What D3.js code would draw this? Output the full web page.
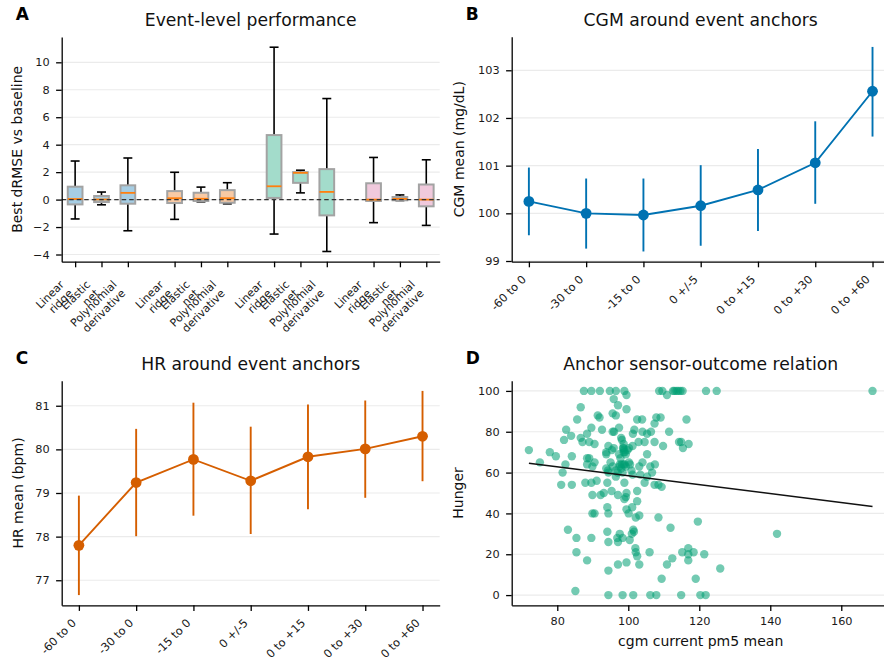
<!DOCTYPE html>
<html>
<head>
<meta charset="utf-8">
<script src="https://cdn.jsdelivr.net/npm/d3@7"></script>
<style>
body { margin: 0; background: #fff; }
text { font-family: "DejaVu Sans", sans-serif; }
</style>
</head>
<body>
<div class="container"></div>
<script>
// ---- data ----
const modelLabels = [['Linear', 'ridge'], ['Elastic', 'net'], ['Polynomial', 'derivative']];
const groupCount = 4;
// one entry per box, group by group (3 models each)
const whiskerHigh = [2.81, 0.55, 3.03, 1.99, 0.91, 1.23, 11.1, 2.14, 7.36, 3.07, 0.34, 2.9];
const boxQ3 = [0.94, 0.26, 1.04, 0.62, 0.5, 0.69, 4.7, 2.0, 2.22, 1.19, 0.19, 1.1];
const boxMedian = [0.04, 0.01, 0.49, 0.1, 0.06, 0.1, 0.97, 1.95, 0.56, 0.0, 0.05, 0.0];
const boxQ1 = [-0.35, -0.18, -0.3, -0.25, -0.1, -0.23, 0.12, 1.22, -1.15, -0.1, -0.05, -0.49];
const whiskerLow = [-1.41, -0.38, -2.27, -1.44, -0.16, -0.31, -2.51, 0.49, -3.78, -1.68, -0.07, -1.88];

const windows = ['-60 to 0', '-30 to 0', '-15 to 0', '0 +/-5', '0 to +15', '0 to +30', '0 to +60'];
const cgmMean = [100.25, 100.0, 99.965, 100.16, 100.49, 101.06, 102.56];
const cgmLow = [99.54, 99.26, 99.2, 99.32, 99.63, 100.2, 101.61];
const cgmHigh = [100.96, 100.73, 100.73, 101.01, 101.35, 101.93, 103.49];

const hrMean = [77.8, 79.24, 79.77, 79.28, 79.83, 80.01, 80.3];
const hrLow = [76.66, 78.01, 78.48, 78.06, 78.63, 78.89, 79.27];
const hrHigh = [78.94, 80.47, 81.07, 80.52, 81.03, 81.12, 81.34];

// hunger value -> cgm current pm5 mean values read at that level
const hungerRows = [
  [100, [87.5, 89.6, 92.0, 94.8, 96.5, 98.9, 108.7, 109.6, 112.6, 113.0, 113.6, 114.1, 114.7, 115.3, 121.9, 124.9, 168.8]],
  [98, [99.5, 110.9]], [96, [95.9]], [93, [97.1]], [92, [86.6]], [91, [99.5]],
  [89, [95.6]], [88, [91.4, 96.5]], [87, [91.9, 107.9, 109.1]],
  [86, [85.6, 102.5, 103.9, 116.4]], [84, [107.4]], [82, [89.6, 97.4]],
  [81, [82.5, 92.6, 101.7]], [80, [95.6, 96.0, 104.0, 106.4, 111.5]],
  [79, [88.4, 101.3, 105.3]], [78, [83.9]], [77, [98.0, 86.6]], [76, [81.9, 98.2]],
  [75, [87.1, 89.0, 102.9, 104.6, 107.4, 114.3, 114.9]], [74, [90.5, 98.7, 117.0]],
  [73, [94.4, 109.8, 101.2]], [72, [95.9, 115.4, 98.7, 100.2, 98.5]], [71, [72.0, 95.4, 98.7, 99.8]],
  [70, [77.9, 93.8, 98.7, 99.0]], [69, [99.3, 93.8, 97.4, 105.3]], [68, [79.6, 84.1]],
  [67, [88.4, 89.0, 97.8]], [65, [75.1, 90.5, 95.0, 100.2, 104.0]],
  [64, [82.3, 88.4, 97.6, 98.2, 98.7, 107.5, 99.0, 100.5]], [63, [103.1, 106.2, 89.9, 95.6, 99.3, 97.5]],
  [62, [93.8, 98.0]], [61, [100.9, 94.3, 96.5]], [60, [81.5, 106.7, 94.4, 98.4, 97.0]],
  [59, [101.2, 103.4]], [58, [96.5, 105.3]], [56, [91.1]], [55, [87.9, 89.6, 94.1, 98.9, 104.6]],
  [54, [81.1, 84.1, 107.4, 108.5]], [53, [109.4]], [51, [95.3, 102.5]], [50, [93.1, 99.5]],
  [49, [89.9, 92.2, 97.1]], [48, [99.3]], [47, [98.9]], [46, [102.5]], [43, [94.1, 101.1]],
  [42, [99.5]], [40, [94.4, 89.9, 90.5, 100.1]], [39, [103.1]], [38, [102.1, 108.5]],
  [36, [119.6]], [33, [111.9]], [32, [83.0, 101.4]], [31, [101.6, 94.1]], [30, [141.9, 97.6, 101.0]],
  [28, [85.4, 89.6, 96.9, 98.4]], [27, [100.4]], [26, [94.4, 97.1]], [23, [102.0, 116.9]],
  [21, [85.4, 102.1, 106.0, 115.2, 118.4]], [20, [116.9, 121.4]], [19, [102.5]], [18, [112.4]],
  [17, [88.4, 116.9]], [16, [99.5]], [15, [97.1, 103.1, 110.9]], [13, [125.9]], [12, [94.4]],
  [8, [109.4, 119.0]], [2, [85.1]], [0, [94.4, 98.4, 101.4, 106.2, 107.9, 114.9, 120.3, 121.8]]
];
const fitX = [72.0, 168.8];
const fitY = [64.6, 43.4];

// ---- styles ----
const boxFills = ['#a6cde3', '#f8caa5', '#a3dccb', '#f0c9dc'];
const blue = '#0072B2', vermillion = '#D55E00', green = '#009E73';
const tickFont = 11.3, labelFont = 14, titleFont = 17.2;

const svg = d3.select('.container')
  .append('svg')
  .attr('width', 884)
  .attr('height', 662);

const panels = {
  A: { left: 61.7, top: 37, right: 439.7, bottom: 261.7 },
  B: { left: 511.7, top: 36.7, right: 889.7, bottom: 261.7 },
  C: { left: 61.7, top: 380.7, right: 439.7, bottom: 605.3 },
  D: { left: 511.7, top: 380.7, right: 889.7, bottom: 605.3 }
};

let padExtent = (vals, f = 0.05) => {
  let [a, b] = d3.extent(vals);
  let p = (b - a) * f;
  return [a - p, b + p];
};

let grid = (p, y, ticks) => {
  svg.append('g').selectAll('line')
    .data(ticks).enter().append('line')
    .attr('x1', p.left).attr('x2', p.right)
    .attr('y1', d => y(d)).attr('y2', d => y(d))
    .attr('stroke', '#ebebeb').attr('stroke-width', 1.2);
};

let styleAxis = g => {
  g.select('.domain').attr('stroke', '#000').attr('stroke-width', 1.3);
  g.selectAll('.tick line').attr('stroke', '#000').attr('stroke-width', 1.3);
  g.selectAll('.tick text').attr('font-size', tickFont).attr('fill', '#1a1a1a')
    .attr('font-family', 'DejaVu Sans, sans-serif');
};

let leftAxis = (p, y, ticks, fmt) => {
  let ax = d3.axisLeft(y).tickValues(ticks).tickSize(5.6).tickSizeOuter(0).tickPadding(6.5);
  if (fmt) ax.tickFormat(fmt);
  svg.append('g').attr('transform', `translate(${p.left},0)`).call(ax).call(styleAxis);
};

let bottomAxis = (p, x, ticks, fmt) => {
  let ax = d3.axisBottom(x).tickValues(ticks).tickSize(5.6).tickSizeOuter(0).tickPadding(5.6);
  if (fmt !== undefined) ax.tickFormat(fmt);
  svg.append('g').attr('transform', `translate(0,${p.bottom})`).call(ax).call(styleAxis);
};

let titles = (p, letter, title, base) => {
  svg.append('text').attr('x', p.left - 46).attr('y', base - 6)
    .attr('font-size', 17).attr('font-weight', 'bold').text(letter);
  svg.append('text').attr('x', (p.left + p.right) / 2).attr('y', base)
    .attr('text-anchor', 'middle').attr('font-size', titleFont).attr('fill', '#111').text(title);
};

let yLabel = (x, p, label) => {
  svg.append('text')
    .attr('transform', `translate(${x},${(p.top + p.bottom) / 2}) rotate(-90)`)
    .attr('text-anchor', 'middle').attr('font-size', labelFont).attr('fill', '#111').text(label);
};

// rotated category labels (matplotlib rotation=45, ha=right)
let rotatedLabels = (p, x, labels) => {
  svg.append('g').selectAll('text')
    .data(labels).enter().append('text')
    .attr('transform', (d, i) => `translate(${x(i) - 2},${p.bottom + 18.4}) rotate(-45)`)
    .attr('text-anchor', 'end').attr('font-size', tickFont).attr('fill', '#1a1a1a')
    .text(d => d);
};

// ---- Panel A: box plots ----
(() => {
  const p = panels.A;
  const offsets = [-0.265, 0, 0.265];
  const boxes = whiskerHigh.map((hi, i) => ({
    g: Math.floor(i / 3), m: i % 3,
    pos: Math.floor(i / 3) + offsets[i % 3],
    hi, q3: boxQ3[i], med: boxMedian[i], q1: boxQ1[i], lo: whiskerLow[i]
  }));
  const x = d3.scaleLinear().domain([-0.4, groupCount - 0.6]).range([p.left, p.right]);
  const y = d3.scaleLinear().domain(padExtent(whiskerHigh.concat(whiskerLow))).range([p.bottom, p.top]);
  const yt = [-4, -2, 0, 2, 4, 6, 8, 10];
  grid(p, y, yt);

  const half = 0.074, cap = 0.045;
  const g = svg.append('g');
  let b = g.selectAll('.box').data(boxes).enter().append('g');
  b.append('line').attr('x1', d => x(d.pos)).attr('x2', d => x(d.pos))
    .attr('y1', d => y(d.lo)).attr('y2', d => y(d.q1)).attr('stroke', '#000').attr('stroke-width', 1.6);
  b.append('line').attr('x1', d => x(d.pos)).attr('x2', d => x(d.pos))
    .attr('y1', d => y(d.q3)).attr('y2', d => y(d.hi)).attr('stroke', '#000').attr('stroke-width', 1.6);
  b.append('line').attr('x1', d => x(d.pos - cap)).attr('x2', d => x(d.pos + cap))
    .attr('y1', d => y(d.hi)).attr('y2', d => y(d.hi)).attr('stroke', '#000').attr('stroke-width', 1.6);
  b.append('line').attr('x1', d => x(d.pos - cap)).attr('x2', d => x(d.pos + cap))
    .attr('y1', d => y(d.lo)).attr('y2', d => y(d.lo)).attr('stroke', '#000').attr('stroke-width', 1.6);
  b.append('rect').attr('x', d => x(d.pos - half)).attr('width', d => x(d.pos + half) - x(d.pos - half))
    .attr('y', d => y(d.q3)).attr('height', d => Math.max(0.5, y(d.q1) - y(d.q3)))
    .attr('fill', d => boxFills[d.g]).attr('stroke', '#a3a3a3').attr('stroke-width', 2);
  b.append('line').attr('x1', d => x(d.pos - half)).attr('x2', d => x(d.pos + half))
    .attr('y1', d => y(d.med)).attr('y2', d => y(d.med)).attr('stroke', '#ff7f0e').attr('stroke-width', 1.8);

  svg.append('line').attr('x1', p.left).attr('x2', p.right).attr('y1', y(0)).attr('y2', y(0))
    .attr('stroke', '#333').attr('stroke-width', 1.2).attr('stroke-dasharray', '4.5,3');

  leftAxis(p, y, yt);
  bottomAxis(p, x, boxes.map(d => d.pos), '');

  // two-line labels, each line right-aligned in the rotated frame
  const fs = 11, step = 8.8;
  const lines = [];
  boxes.forEach(d => modelLabels[d.m].forEach((t, k) => lines.push({
    t, ax: x(d.pos) - 10.5 + step * k, ay: p.bottom + 23.5 + step * k
  })));
  svg.append('g').selectAll('text').data(lines).enter().append('text')
    .attr('transform', d => `translate(${d.ax},${d.ay}) rotate(-45)`)
    .attr('text-anchor', 'end').attr('font-size', fs).attr('fill', '#1a1a1a')
    .text(d => d.t);

  titles(p, 'A', 'Event-level performance', 26);
  yLabel(22, p, 'Best dRMSE vs baseline');
})();

// ---- Panels B and C: mean +/- error ----
let meanPanel = (p, mean, lo, hi, color, yt, letter, title, label, base, labelX) => {
  const x = d3.scaleLinear().domain(padExtent([0, windows.length - 1])).range([p.left, p.right]);
  const y = d3.scaleLinear().domain(padExtent(lo.concat(hi))).range([p.bottom, p.top]);
  grid(p, y, yt);
  svg.append('g').selectAll('line').data(mean).enter().append('line')
    .attr('x1', (d, i) => x(i)).attr('x2', (d, i) => x(i))
    .attr('y1', (d, i) => y(lo[i])).attr('y2', (d, i) => y(hi[i]))
    .attr('stroke', color).attr('stroke-width', 1.9);
  svg.append('path').datum(mean)
    .attr('d', d3.line().x((d, i) => x(i)).y(d => y(d)))
    .attr('fill', 'none').attr('stroke', color).attr('stroke-width', 1.9);
  svg.append('g').selectAll('circle').data(mean).enter().append('circle')
    .attr('cx', (d, i) => x(i)).attr('cy', d => y(d)).attr('r', 5.4).attr('fill', color);
  leftAxis(p, y, yt, d3.format('d'));
  bottomAxis(p, x, d3.range(windows.length), '');
  rotatedLabels(p, x, windows);
  titles(p, letter, title, base);
  yLabel(labelX, p, label);
};

meanPanel(panels.B, cgmMean, cgmLow, cgmHigh, blue, [99, 100, 101, 102, 103],
  'B', 'CGM around event anchors', 'CGM mean (mg/dL)', 26, 464);
meanPanel(panels.C, hrMean, hrLow, hrHigh, vermillion, [77, 78, 79, 80, 81],
  'C', 'HR around event anchors', 'HR mean (bpm)', 370, 23);

// ---- Panel D: scatter ----
(() => {
  const p = panels.D;
  const pts = [];
  hungerRows.forEach(([h, xs]) => xs.forEach(v => pts.push({ x: v, y: h })));
  const x = d3.scaleLinear().domain(padExtent(pts.map(d => d.x))).range([p.left, p.right]);
  const y = d3.scaleLinear().domain(padExtent(pts.map(d => d.y))).range([p.bottom, p.top]);
  const yt = [0, 20, 40, 60, 80, 100];
  grid(p, y, yt);
  svg.append('g').selectAll('circle').data(pts).enter().append('circle')
    .attr('cx', d => x(d.x)).attr('cy', d => y(d.y)).attr('r', 4.2)
    .attr('fill', green).attr('fill-opacity', 0.55);
  svg.append('path').datum(fitX.map((v, i) => [v, fitY[i]]))
    .attr('d', d3.line().x(d => x(d[0])).y(d => y(d[1])))
    .attr('stroke', '#111').attr('stroke-width', 1.5).attr('fill', 'none');
  leftAxis(p, y, yt);
  bottomAxis(p, x, [80, 100, 120, 140, 160]);
  svg.append('text').attr('x', (p.left + p.right) / 2).attr('y', 646)
    .attr('text-anchor', 'middle').attr('font-size', labelFont).attr('fill', '#111')
    .text('cgm current pm5 mean');
  titles(p, 'D', 'Anchor sensor-outcome relation', 370);
  yLabel(463, p, 'Hunger');
})();
</script>
</body>
</html>
